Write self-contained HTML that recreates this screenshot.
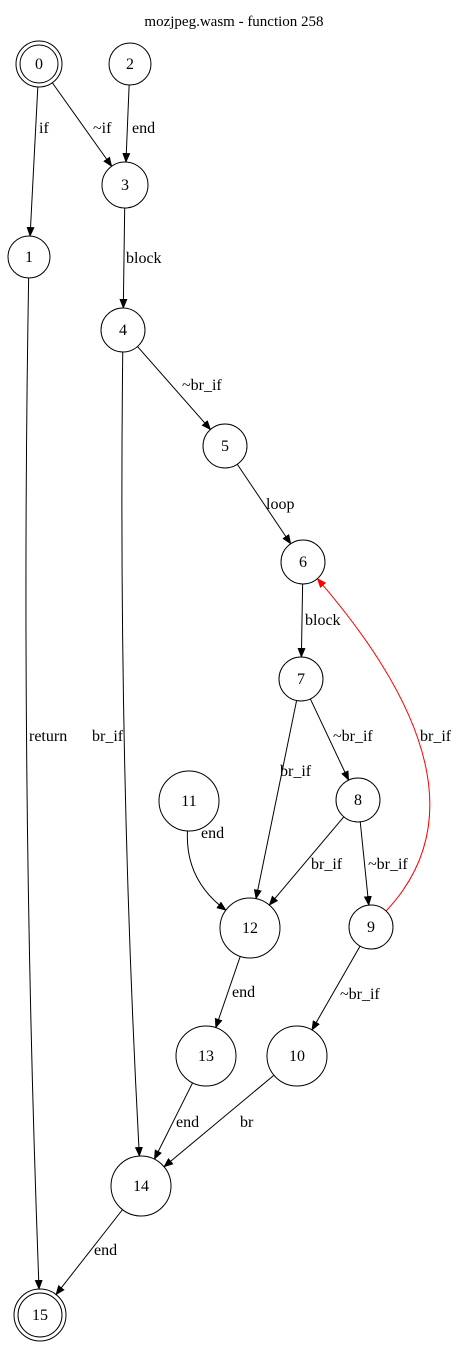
<!DOCTYPE html>
<html><head><meta charset="utf-8">
<style>
html,body{margin:0;padding:0;background:#fff;}
svg{display:block;}
text{font-family:"Liberation Serif",serif;fill:#000;}
</style></head>
<body>
<svg id="g" width="468" height="1362" viewBox="0 0 468 1362" xmlns="http://www.w3.org/2000/svg">
<defs>
<marker id="ab" markerWidth="10" markerHeight="8" refX="9" refY="4" orient="auto" markerUnits="userSpaceOnUse"><path d="M0,0 L10,4 L0,8 z" fill="#000"/></marker>
<marker id="ar" markerWidth="10" markerHeight="8" refX="9" refY="4" orient="auto" markerUnits="userSpaceOnUse"><path d="M0,0 L10,4 L0,8 z" fill="#f00"/></marker>
</defs>
<text x="234" y="26" text-anchor="middle" font-size="15">mozjpeg.wasm - function 258</text>
</svg>
<script>
const nodeIds=[0,1,2,3,4,5,6,7,8,9,10,11,12,13,14,15];
const nodeX=[39,29,130,125,123,225,303,301,358,371,297,189,250,206,141,40];
const nodeY=[64,257,64,185,330,446,562,679,800,927,1056,801,928,1056,1186,1315];
const nodeR=[19,21,21,23,22,22,22,22,22,22,30,30,30,30,30,22];
const nodeDouble=[1,0,0,0,0,0,0,0,0,0,0,0,0,0,0,1];
const edgeFrom=[0,0,2,1,3,4,4,5,6,7,7,11,8,8,9,9,12,13,10,14];
const edgeTo=[1,3,3,15,4,5,14,6,7,8,12,12,12,9,6,10,13,14,14,15];
const edgeLabel=["if","~if","end","return","block","~br_if","br_if","loop","block","~br_if","br_if","end","br_if","~br_if","br_if","~br_if","end","end","br","end"];
const labelX=[39,93,132,29,126,182,92,266,305,333,280,201,311,368,420,340,232,176,240,94];
const labelY=[128,128,128,736,258,385,736,504,620,736,771,833,864,864,736,994,992,1122,1122,1250];
const edgeCtrlX=[null,null,null,20,null,null,118,null,null,null,null,185,null,null,500,null,null,null,null,null];
const edgeCtrlY=[null,null,null,780,null,null,760,null,null,null,null,880,null,null,790,null,null,null,null,null];
const edgeColor=["#000","#000","#000","#000","#000","#000","#000","#000","#000","#000","#000","#000","#000","#000","#f00","#000","#000","#000","#000","#000"];

const svg=document.getElementById('g');
const NS='http://www.w3.org/2000/svg';
function idx(id){return nodeIds.indexOf(id);}
function boundary(i,tx,ty){
  const dx=tx-nodeX[i],dy=ty-nodeY[i],d=Math.hypot(dx,dy);
  const r=nodeR[i]+(nodeDouble[i]?4:0);
  return [nodeX[i]+dx/d*r,nodeY[i]+dy/d*r];
}
for(let e=0;e<edgeFrom.length;e++){
  const a=idx(edgeFrom[e]),b=idx(edgeTo[e]);
  const hasC=edgeCtrlX[e]!==null;
  const cx=hasC?edgeCtrlX[e]:nodeX[b],cy=hasC?edgeCtrlY[e]:nodeY[b];
  const cx2=hasC?edgeCtrlX[e]:nodeX[a],cy2=hasC?edgeCtrlY[e]:nodeY[a];
  const p0=boundary(a,cx,cy),p1=boundary(b,cx2,cy2);
  const p=document.createElementNS(NS,'path');
  p.setAttribute('d',hasC?`M${p0[0]},${p0[1]} Q${cx},${cy} ${p1[0]},${p1[1]}`:`M${p0[0]},${p0[1]} L${p1[0]},${p1[1]}`);
  p.setAttribute('fill','none');
  p.setAttribute('stroke',edgeColor[e]);
  p.setAttribute('marker-end',edgeColor[e]==='#f00'?'url(#ar)':'url(#ab)');
  
  
  svg.appendChild(p);
  const t=document.createElementNS(NS,'text');
  t.setAttribute('x',labelX[e]);t.setAttribute('y',labelY[e]+5);
  t.setAttribute('font-size','16');
  t.textContent=edgeLabel[e];
  
  
  svg.appendChild(t);
}
for(let i=0;i<nodeIds.length;i++){
  const g=document.createElementNS(NS,'g');
  
  
  const c=document.createElementNS(NS,'circle');
  c.setAttribute('cx',nodeX[i]);c.setAttribute('cy',nodeY[i]);c.setAttribute('r',nodeR[i]);
  c.setAttribute('fill','#fff');c.setAttribute('stroke','#000');
  g.appendChild(c);
  if(nodeDouble[i]){
    const c2=document.createElementNS(NS,'circle');
    c2.setAttribute('cx',nodeX[i]);c2.setAttribute('cy',nodeY[i]);c2.setAttribute('r',nodeR[i]+4);
    c2.setAttribute('fill','none');c2.setAttribute('stroke','#000');
    g.appendChild(c2);
  }
  const t=document.createElementNS(NS,'text');
  t.setAttribute('x',nodeX[i]);t.setAttribute('y',nodeY[i]+5);
  t.setAttribute('text-anchor','middle');t.setAttribute('font-size','16');
  t.textContent=nodeIds[i];
  g.appendChild(t);
  svg.appendChild(g);
}
</script>
</body></html>
